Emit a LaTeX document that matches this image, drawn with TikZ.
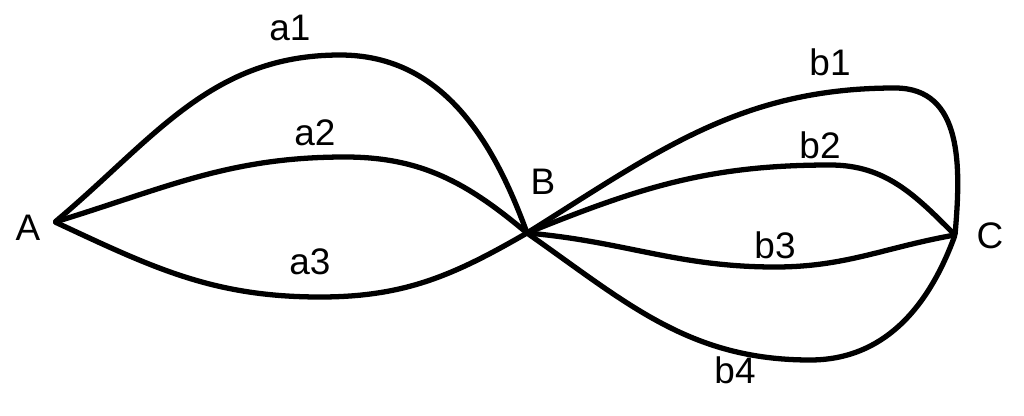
\documentclass[tikz,border=0pt]{standalone}
\usepackage{fontspec}
\setmainfont{Liberation Sans}
\begin{document}
\begin{tikzpicture}[x=0.01cm,y=-0.01cm,
  edge/.style={line width=1.5pt,line cap=round,line join=round},
  lbl/.style={font=\fontsize{10.5pt}{12pt}\selectfont,inner sep=0pt},
  pt/.style={inner sep=0pt,minimum size=0pt}]
\useasboundingbox (0,0) rectangle (1024,415);
\node[pt] (A) at (55,222) {};
\node[pt] (B) at (527,233) {};
\node[pt] (C) at (955,235) {};
\coordinate (p1) at (340,55);
\coordinate (p2) at (345,157);
\coordinate (p3) at (320,297);
\coordinate (q1) at (895,88);
\coordinate (q2) at (830,165);
\coordinate (q3) at (775,267);
\coordinate (q4) at (810,360);
\node[lbl] (lA) at (28,228) {A};
\node[lbl] (lB) at (543,182) {B};
\node[lbl] (lC) at (990,236) {C};
\node[lbl] (la1) at (290,28) {a1};
\node[lbl] (la2) at (315,133) {a2};
\node[lbl] (la3) at (310,262) {a3};
\node[lbl] (lb1) at (830,62) {b1};
\node[lbl] (lb2) at (820,145) {b2};
\node[lbl] (lb3) at (775,245) {b3};
\node[lbl] (lb4) at (735,370) {b4};
\draw[edge] (A) to[out=40,in=180] (p1) to[out=0,in=110] (B);
\draw[edge] (A) to[out=17,in=180] (p2) to[out=0,in=140] (B);
\draw[edge] (A) to[out=-25,in=180] (p3) to[out=0,in=-150] (B);
\draw[edge] (B) to[out=32,in=180] (q1) to[out=0,in=85,looseness=1.1] (C);
\draw[edge] (B) to[out=22,in=180] (q2) to[out=0,in=135] (C);
\draw[edge] (B) to[out=-5,in=180] (q3) to[out=0,in=-170] (C);
\draw[edge] (B) to[out=-35,in=180] (q4) to[out=0,in=-110] (C);
\end{tikzpicture}
\end{document}
